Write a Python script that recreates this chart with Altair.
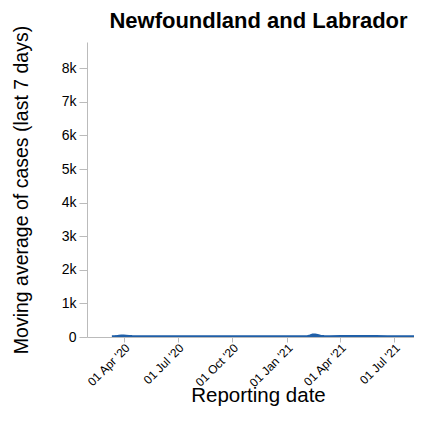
import altair as alt
import pandas as pd

dates = [
    "2020-03-12", "2020-03-16", "2020-03-20", "2020-03-24", "2020-03-28",
    "2020-04-01", "2020-04-05", "2020-04-10", "2020-04-15", "2020-04-22",
    "2020-05-01", "2020-06-01", "2020-07-01", "2020-08-01", "2020-09-01",
    "2020-10-01", "2020-11-01", "2020-11-20", "2020-12-10", "2021-01-01",
    "2021-01-20", "2021-02-05", "2021-02-10", "2021-02-14", "2021-02-18",
    "2021-02-22", "2021-02-27", "2021-03-05", "2021-03-15", "2021-04-01",
    "2021-04-15", "2021-05-01", "2021-05-15", "2021-06-01", "2021-06-20",
    "2021-07-10", "2021-08-01", "2021-08-15", "2021-08-28",
]
cases_7d = [
    0, 1, 4, 14, 22,
    25, 18, 10, 4, 1,
    0, 0, 0, 0, 1,
    1, 1, 3, 2, 1,
    1, 2, 25, 55, 50,
    35, 18, 7, 3, 6,
    8, 9, 7, 4, 2,
    1, 1, 2, 2,
]

df = pd.DataFrame({"date": pd.to_datetime(dates), "cases": cases_7d})

chart = (
    alt.Chart(df)
    .mark_line(color="#1f5fa8", strokeWidth=3.5, clip=True)
    .encode(
        x=alt.X(
            "date:T",
            title="Reporting date",
            scale=alt.Scale(domain=["2020-01-30", "2021-08-04"], nice=False),
            axis=alt.Axis(
                format="%d %b '%y",
                labelAngle=-45,
                tickCount=alt.TimeIntervalStep(interval="month", step=3),
                labelOverlap=False,
                labelFontSize=12,
                tickSize=5,
                labelPadding=0,
                titlePadding=-3,
                titleFontSize=20.5,
                titleX=171,
            ),
        ),
        y=alt.Y(
            "cases:Q",
            title="Moving average of cases (last 7 days)",
            scale=alt.Scale(domain=[0, 8780], nice=False),
            axis=alt.Axis(
                tickCount=9,
                labelExpr="datum.value == 0 ? '0' : format(datum.value, '~s')",
                labelFontSize=14,
                tickSize=8,
                labelPadding=3,
                titlePadding=30,
                titleFontSize=19.5,
            ),
        ),
    )
    .properties(
        width=327,
        height=295,
        padding={"left": 79, "top": 34, "right": 0, "bottom": 74},
        autosize=alt.AutoSizeParams(type="none"),
        title=alt.TitleParams("Newfoundland and Labrador", fontSize=22, fontWeight="bold", offset=-8, dx=8),
    )
    .configure(font="Liberation Sans")
    .configure_view(stroke=None)
    .configure_axis(
        grid=False,
        titleFontWeight="normal",
        labelColor="black",
        titleColor="black",
        domainColor="#bbbbbb",
        tickColor="#bbbbbb",
    )
)

chart.save("out.html", embed_options={"renderer": "svg", "actions": False})
